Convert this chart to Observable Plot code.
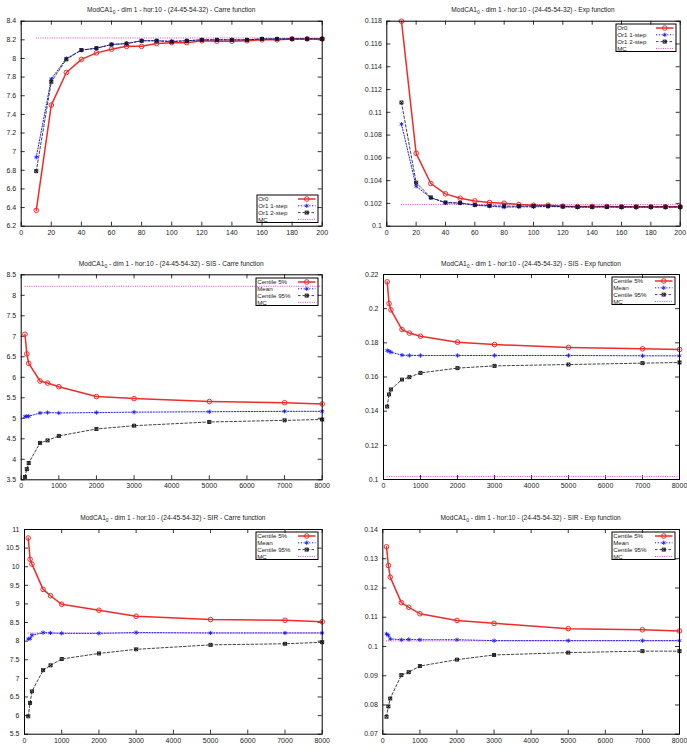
<!DOCTYPE html>
<html><head><meta charset="utf-8">
<script src="https://cdn.jsdelivr.net/npm/d3@7"></script>
<script src="https://cdn.jsdelivr.net/npm/@observablehq/plot@0.6"></script>
<style>
body{margin:0;background:#fff;font-family:"Liberation Sans",Arial,sans-serif;}
#root{position:relative;width:687px;height:754px;overflow:hidden;background:#fff;}
.panel{position:absolute;}
.title{position:absolute;font-size:6.6px;line-height:8px;white-space:nowrap;transform:translateX(-50%);color:#222;}
.title sub{font-size:5px;vertical-align:-1.5px;line-height:0;}
.legend{position:absolute;}
</style>
</head><body><div id="root"></div>
<script>
// ---------- data ----------
const orX = [10,20,30,40,50,60,70,80,90,100,110,120,130,140,150,160,170,180,190,200];
const carreOr0 = [6.37,7.50,7.85,7.99,8.06,8.10,8.13,8.13,8.16,8.17,8.17,8.19,8.185,8.185,8.19,8.20,8.20,8.21,8.21,8.21];
const carreOr1a = [6.94,7.78,8.00,8.09,8.11,8.15,8.16,8.19,8.19,8.185,8.19,8.20,8.20,8.20,8.20,8.21,8.21,8.21,8.21,8.21];
const carreOr1b = [6.79,7.75,7.99,8.09,8.11,8.15,8.16,8.19,8.19,8.18,8.19,8.20,8.20,8.20,8.20,8.21,8.21,8.21,8.21,8.21];
const carreMC = 8.22;
const expOr0 = [0.1180,0.1064,0.10375,0.10284,0.10246,0.10222,0.10208,0.10202,0.1019,0.10184,0.10184,0.10176,0.10173,0.10173,0.10173,0.1017,0.1017,0.1017,0.1017,0.1017];
const expOr1a = [0.10896,0.10351,0.10249,0.10205,0.10202,0.10184,0.10176,0.10167,0.1017,0.1017,0.10173,0.1017,0.10167,0.10167,0.1017,0.10167,0.10167,0.10167,0.10167,0.10167];
const expOr1b = [0.11086,0.10383,0.10252,0.10208,0.10205,0.10187,0.1018,0.10176,0.10176,0.10176,0.10176,0.10173,0.1017,0.1017,0.1017,0.1017,0.1017,0.1017,0.1017,0.1017];
const expMC = 0.1019;

const nX = [100,150,200,500,700,1000,2000,3000,5000,7000,8000];
const sisCarreC5 = [7.05,6.57,6.34,5.91,5.86,5.77,5.53,5.48,5.41,5.38,5.35];
const sisCarreMean = [5.04,5.05,5.05,5.13,5.14,5.13,5.14,5.15,5.16,5.17,5.17];
const sisCarreC95 = [3.57,3.76,3.91,4.40,4.46,4.57,4.74,4.82,4.91,4.95,4.97];
const sisCarreMC = 8.22;
const sisExpC5 = [0.2157,0.2030,0.1993,0.1878,0.1857,0.1839,0.1804,0.1790,0.1773,0.1765,0.1761];
const sisExpMean = [0.1755,0.1751,0.1745,0.1728,0.1726,0.1726,0.1726,0.1726,0.1726,0.1724,0.1724];
const sisExpC95 = [0.1427,0.1498,0.1527,0.1585,0.1599,0.1624,0.1652,0.1665,0.1673,0.1681,0.1685];
const sisExpMC = 0.1018;
const sirCarreC5 = [10.77,10.20,10.07,9.39,9.22,8.99,8.83,8.67,8.58,8.56,8.52];
const sirCarreMean = [8.06,8.07,8.16,8.23,8.22,8.21,8.21,8.23,8.22,8.22,8.22];
const sirCarreC95 = [5.98,6.34,6.65,7.22,7.35,7.52,7.67,7.78,7.90,7.93,7.97];
const sirCarreMC = 8.22;
const sirExpC5 = [0.1341,0.1277,0.1237,0.1150,0.1134,0.1112,0.1089,0.1079,0.1061,0.1057,0.1053];
const sirExpMean = [0.1043,0.1038,0.1026,0.1023,0.1024,0.1023,0.1023,0.1020,0.1020,0.1020,0.1020];
const sirExpC95 = [0.0760,0.0795,0.0822,0.0902,0.0912,0.0933,0.0955,0.0971,0.0979,0.0984,0.0984];
const sirExpMC = 0.1019;

const orLabels = ["Or0","Or1 1-step","Or1 2-step","MC"];
const nLabels = ["Centile 5%","Mean","Centile 95%","MC"];

const xTicksOr = [0,20,40,60,80,100,120,140,160,180,200];
const xTicksN = [0,1000,2000,3000,4000,5000,6000,7000,8000];
const yTicks1 = [6.2,6.4,6.6,6.8,7,7.2,7.4,7.6,7.8,8,8.2,8.4];
const yTicks2 = [0.1,0.102,0.104,0.106,0.108,0.11,0.112,0.114,0.116,0.118];
const yTicks3 = [3.5,4,4.5,5,5.5,6,6.5,7,7.5,8,8.5];
const yTicks4 = [0.1,0.12,0.14,0.16,0.18,0.2,0.22];
const yTicks5 = [5.5,6,6.5,7,7.5,8,8.5,9,9.5,10,10.5,11];
const yTicks6 = [0.07,0.08,0.09,0.1,0.11,0.12,0.13,0.14];

const titleBase = ["ModCA1", "0", " - dim 1 - hor:10 - (24-45-54-32) - "];

// ---------- styles ----------
const RED = "#ee2c2c", BLUE = "#1a1aff", BLACK = "#111", MAG = "#e040e0";
const styles = [
  {stroke: RED, width: 1.5, dash: null, sym: "circle", r: 2.3},
  {stroke: BLUE, width: 1, dash: "1.2,1.6", sym: "asterisk", r: 2.0},
  {stroke: BLACK, width: 0.8, dash: "2.5,2", sym: "boxx", r: 1.7},
  {stroke: MAG, width: 1, dash: "1,1.3", sym: null}
];
const fmt = d3.format("~g");

const root = document.getElementById("root");

function panel(cfg) {
  const {left, top, width, height, mL, mR, mT, mB, xs, series, mc, xDomain, yDomain, xTicks, yTicks, title, legendAt, labels, titleY} = cfg;
  const fw = width - mL - mR, fh = height - mT - mB;
  const marks = [
    Plot.ruleY([mc], {x1: xs[0], x2: xs[xs.length-1], stroke: styles[3].stroke, strokeWidth: styles[3].width, strokeDasharray: styles[3].dash}),
  ];
  series.forEach((vals, i) => {
    const s = styles[i];
    marks.push(Plot.line(vals, {x: xs, y: vals, stroke: s.stroke, strokeWidth: s.width, strokeDasharray: s.dash}));
  });
  series.forEach((vals, i) => {
    const s = styles[i];
    if (s.sym === "boxx") {
      marks.push(Plot.dot(vals, {x: xs, y: vals, symbol: "square", r: s.r, stroke: s.stroke, fill: "none", strokeWidth: 0.9}));
      marks.push(Plot.dot(vals, {x: xs, y: vals, symbol: "times", r: s.r, stroke: s.stroke, strokeWidth: 0.9}));
    } else if (s.sym === "circle") {
      marks.push(Plot.dot(vals, {x: xs, y: vals, symbol: "circle", r: s.r, stroke: s.stroke, fill: "none", strokeWidth: 1}));
    } else {
      marks.push(Plot.dot(vals, {x: xs, y: vals, symbol: s.sym, r: s.r, stroke: s.stroke, strokeWidth: 0.9}));
    }
  });
  const chart = Plot.plot({
    width, height, marginLeft: mL, marginRight: mR, marginTop: mT, marginBottom: mB,
    style: {fontSize: "7px", fontFamily: '"Liberation Sans", Arial, sans-serif', color: "#222", background: "transparent", overflow: "visible"},
    x: {domain: xDomain},
    y: {domain: yDomain},
    marks: [
      Plot.axisX(xTicks, {tickSize: 0, tickPadding: 3.5, tickFormat: fmt}),
      Plot.axisY(yTicks, {tickSize: 0, tickPadding: 5, tickFormat: fmt}),
      Plot.tickX(xTicks, {x: d => d, insetTop: fh - 4, stroke: "#000", strokeWidth: 0.8}),
      Plot.tickX(xTicks, {x: d => d, insetBottom: fh - 4, stroke: "#000", strokeWidth: 0.8}),
      Plot.tickY(yTicks, {y: d => d, insetRight: fw - 4, stroke: "#000", strokeWidth: 0.8}),
      Plot.tickY(yTicks, {y: d => d, insetLeft: fw - 4, stroke: "#000", strokeWidth: 0.8}),
      ...marks,
      Plot.frame({stroke: "#000", strokeWidth: 1})
    ]
  });
  const wrap = document.createElement("div");
  wrap.className = "panel";
  wrap.style.left = left + "px";
  wrap.style.top = top + "px";
  wrap.appendChild(chart);
  root.appendChild(wrap);

  // title
  const t = document.createElement("div");
  t.className = "title";
  t.style.left = (left + mL + fw / 2) + "px";
  t.style.top = (top + titleY - 4) + "px";
  t.innerHTML = `${titleBase[0]}<sub>${titleBase[1]}</sub>${titleBase[2]}${title}`;
  root.appendChild(t);

  // legend
  const lw = legendAt.w, lh = 27.5;
  const fr = left + mL + fw, ft = top + mT, fb = top + mT + fh;
  const lx = fr - 4 - lw;
  const ly = legendAt.pos === "bottom" ? fb - 3.7 - lh : ft + 3.2;
  const svg = d3.create("svg").attr("width", lw + 2).attr("height", lh + 2)
    .attr("class", "legend").style("left", (lx - 1) + "px").style("top", (ly - 1) + "px")
    .style("position", "absolute").style("overflow", "visible");
  svg.append("rect").attr("x", 1).attr("y", 1).attr("width", lw).attr("height", lh)
    .attr("fill", "none").attr("stroke", "#000").attr("stroke-width", 1);
  labels.forEach((lab, i) => {
    const cy = 1 + 4 + i * 6.8;
    const s = styles[i];
    svg.append("text").attr("x", 2.2).attr("y", cy).attr("dy", "0.35em")
      .attr("font-size", 6.2).attr("font-family", '"Liberation Sans", Arial, sans-serif').attr("fill", "#222").text(lab);
    const x1 = lw - 19, x2 = lw - 1.5, xm = (x1 + x2) / 2;
    svg.append("line").attr("x1", x1).attr("x2", x2).attr("y1", cy).attr("y2", cy)
      .attr("stroke", s.stroke).attr("stroke-width", s.width).attr("stroke-dasharray", s.dash);
    if (s.sym === "circle") {
      svg.append("circle").attr("cx", xm).attr("cy", cy).attr("r", s.r).attr("fill", "none").attr("stroke", s.stroke);
    } else if (s.sym === "asterisk") {
      svg.append("path").attr("transform", `translate(${xm},${cy})`).attr("d", d3.symbol(d3.symbolAsterisk, Math.PI * s.r * s.r)()).attr("stroke", s.stroke).attr("stroke-width", 0.9).attr("fill", "none");
    } else if (s.sym === "boxx") {
      svg.append("path").attr("transform", `translate(${xm},${cy})`).attr("d", d3.symbol(d3.symbolSquare, Math.PI * s.r * s.r)()).attr("stroke", s.stroke).attr("stroke-width", 0.9).attr("fill", "none");
      svg.append("path").attr("transform", `translate(${xm},${cy})`).attr("d", d3.symbol(d3.symbolTimes, Math.PI * s.r * s.r)()).attr("stroke", s.stroke).attr("stroke-width", 0.9).attr("fill", "none");
    }
  });
  root.appendChild(svg.node());
}

panel({left: 0, top: 0, width: 343, height: 245, mL: 20.7, mR: 21.3, mT: 20.7, mB: 19.3,
  xs: orX, series: [carreOr0, carreOr1a, carreOr1b], mc: carreMC,
  xDomain: [0, 200], yDomain: [6.2, 8.4], xTicks: xTicksOr, yTicks: yTicks1,
  title: "Carre function", titleY: 10, labels: orLabels, legendAt: {pos: "bottom", w: 61}});
panel({left: 343, top: 0, width: 344, height: 245, mL: 43.3, mR: 7.3, mT: 20.7, mB: 19.3,
  xs: orX, series: [expOr0, expOr1a, expOr1b], mc: expMC,
  xDomain: [0, 200], yDomain: [0.1, 0.118], xTicks: xTicksOr, yTicks: yTicks2,
  title: "Exp function", titleY: 10, labels: orLabels, legendAt: {pos: "top", w: 60}});
panel({left: 0, top: 250, width: 343, height: 250, mL: 20.7, mR: 21.3, mT: 24.3, mB: 20.7,
  xs: nX, series: [sisCarreC5, sisCarreMean, sisCarreC95], mc: sisCarreMC,
  xDomain: [0, 8000], yDomain: [3.5, 8.5], xTicks: xTicksN, yTicks: yTicks3,
  title: "SIS - Carre function", titleY: 14, labels: nLabels, legendAt: {pos: "top", w: 62}});
panel({left: 343, top: 250, width: 344, height: 250, mL: 40, mR: 8, mT: 24, mB: 21,
  xs: nX, series: [sisExpC5, sisExpMean, sisExpC95], mc: sisExpMC,
  xDomain: [0, 8000], yDomain: [0.1, 0.22], xTicks: xTicksN, yTicks: yTicks4,
  title: "SIS - Exp function", titleY: 14, labels: nLabels, legendAt: {pos: "top", w: 63}});
panel({left: 0, top: 505, width: 343, height: 249, mL: 24, mR: 21.3, mT: 24, mB: 20.3,
  xs: nX, series: [sirCarreC5, sirCarreMean, sirCarreC95], mc: sirCarreMC,
  xDomain: [0, 8000], yDomain: [5.5, 11], xTicks: xTicksN, yTicks: yTicks5,
  title: "SIR - Carre function", titleY: 13, labels: nLabels, legendAt: {pos: "top", w: 62}});
panel({left: 343, top: 505, width: 344, height: 249, mL: 39.3, mR: 8, mT: 24, mB: 20.3,
  xs: nX, series: [sirExpC5, sirExpMean, sirExpC95], mc: sirExpMC,
  xDomain: [0, 8000], yDomain: [0.07, 0.14], xTicks: xTicksN, yTicks: yTicks6,
  title: "SIR - Exp function", titleY: 13, labels: nLabels, legendAt: {pos: "top", w: 63}});
</script>
</body></html>
